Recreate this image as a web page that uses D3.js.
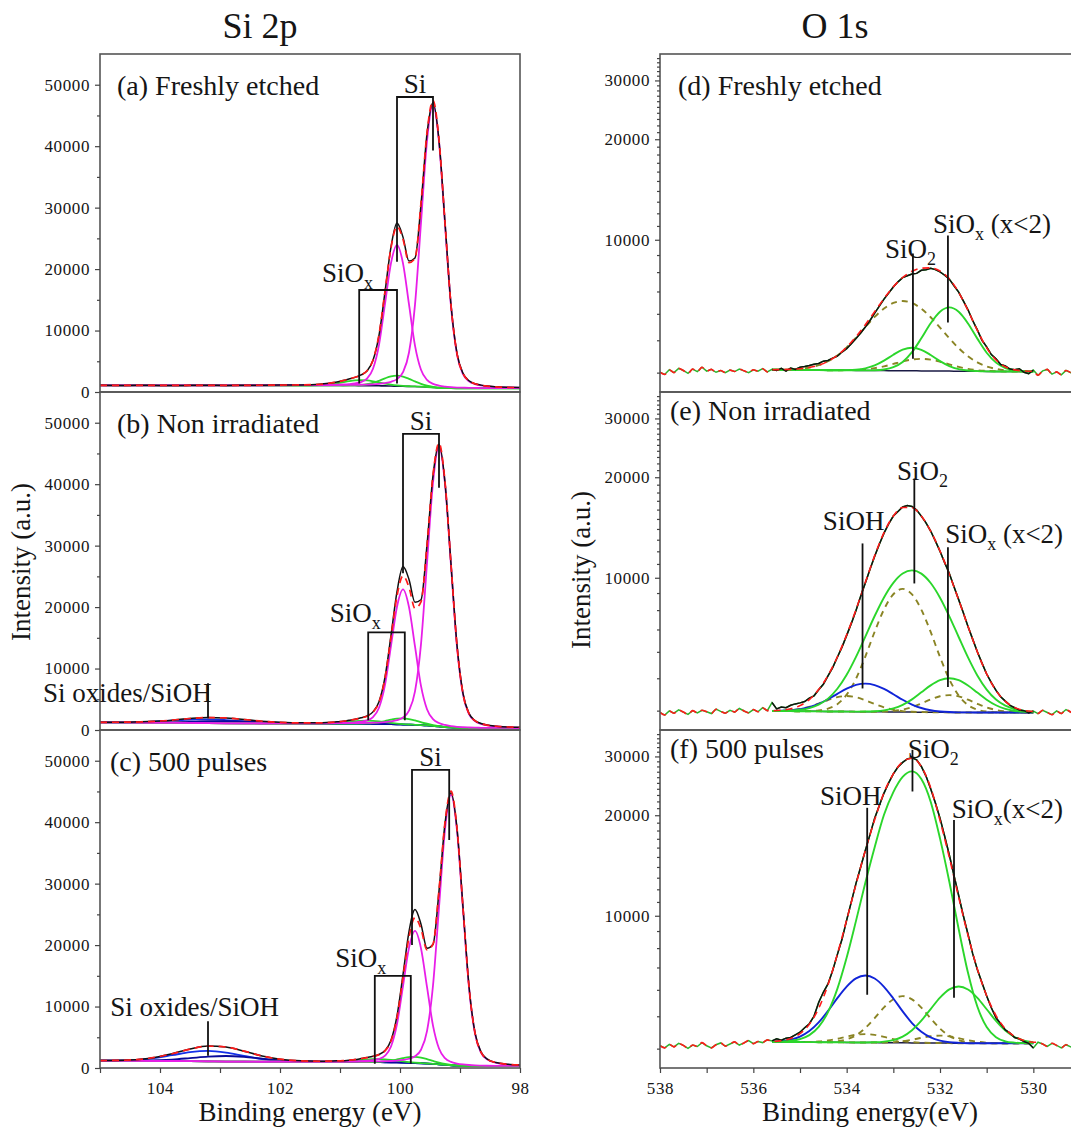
<!DOCTYPE html>
<html>
<head>
<meta charset="utf-8">
<title>XPS Si 2p / O 1s</title>
<script src="https://cdnjs.cloudflare.com/ajax/libs/d3/7.8.5/d3.min.js"></script>
<style>
body{margin:0;background:#fff;}
svg text{font-family:"Liberation Serif","Times New Roman",Times,serif !important;fill:#151515;white-space:pre;}
</style>
</head>
<body>
<script>
// ---------- Si 2p : energy grid (eV) ----------
var siEnergy=[105,104.6,104.2,103.8,103.5,103.2,102.9,102.6,102.3,102.0,101.65,101.35,101.05,100.95,100.85,100.75,100.65,100.55,100.45,100.35,100.25,100.15,100.05,99.95,99.85,99.75,99.65,99.55,99.45,99.35,99.25,99.15,99.05,98.95,98.85,98.75,98.65,98.55,98.4,98.2,98.0];

// (a) freshly etched
var bgA=[1080,1080,1080,1080,1080,1080,1080,1080,1080,1080,1075,1070,1065,1060,1055,1050,1040,1030,1020,1005,990,970,950,930,910,890,860,810,750,690,650,625,612,605,600,600,600,600,600,600,600];
var measA=[1090,1075,1085,1070,1080,1095,1070,1085,1100,1120,1150,1260,1640,1870,2120,2380,2780,3420,5150,9200,16300,23600,27500,25200,21300,21800,30500,42000,47100,40900,27600,14200,6300,3050,1830,1340,1120,960,840,760,715];
var si32A=[0,0,0,0,0,0,0,0,0,20,40,55,80,85,92,115,138,184,230,322,460,690,1150,2300,5520,13340,26680,40020,46000,40020,26680,13340,5520,2300,1150,690,460,322,207,129,87];
var si12A=[0,0,0,0,0,0,0,12,18,28,39,58,115,161,230,345,575,1150,2760,6670,13340,20010,23000,20010,13340,6670,2760,1150,575,345,230,161,115,92,69,58,46,41,38,29,23];
var sioxA1=[0,0,0,0,0,0,0,0,0,0,0,0,0,0,10,34,95,230,473,828,1234,1570,1700,1570,1234,828,473,230,95,34,10,0,0,0,0,0,0,0,0,0,0];
var sioxA2=[0,0,0,0,0,0,0,0,0,0,4,59,370,546,720,851,900,851,720,546,370,224,122,59,25,10,4,0,0,0,0,0,0,0,0,0,0,0,0,0,0];

// (b) non irradiated
var bgB=[1250,1240,1220,1190,1160,1120,1090,1070,1060,1055,1050,1045,1040,1035,1030,1025,1020,1010,1000,985,965,945,920,890,860,830,790,740,670,580,490,420,370,340,320,310,305,300,300,300,300];
var measB=[1260,1255,1370,1600,1880,2040,1940,1720,1430,1250,1160,1170,1330,1420,1580,1760,1990,2300,2950,4600,8600,15400,22500,26600,24500,20800,21200,30100,41400,46500,40300,27000,13800,5950,2700,1530,1060,800,620,490,430];
var si32B=[0,0,0,0,0,0,0,0,0,18,32,46,68,77,82,91,114,137,182,228,319,455,683,1138,2275,5460,13195,26390,39585,45500,39585,26390,13195,5460,2275,1138,683,455,273,159,100];
var si12B=[0,0,0,0,0,0,0,9,13,22,33,44,88,110,154,220,330,550,1100,2640,6380,12760,19140,22000,19140,12760,6380,2640,1100,550,330,220,154,110,88,66,55,44,37,31,26];
var sioxB1=[0,0,0,0,0,0,0,0,0,0,0,0,0,0,0,6,20,56,135,278,487,726,923,1000,923,726,487,278,135,56,20,6,0,0,0,0,0,0,0,0,0];
var sioxB2=[0,0,0,0,0,0,0,0,0,0,0,14,125,206,304,400,473,500,473,400,304,206,125,68,33,14,6,2,0,0,0,0,0,0,0,0,0,0,0,0,0];
var blueB1=[3,23,115,331,517,600,517,331,157,56,11,2,0,0,0,0,0,0,0,0,0,0,0,0,0,0,0,0,0,0,0,0,0,0,0,0,0,0,0,0,0];
var blueB2=[0,3,21,92,193,302,350,302,193,92,26,7,1,0,0,0,0,0,0,0,0,0,0,0,0,0,0,0,0,0,0,0,0,0,0,0,0,0,0,0,0];

// (c) 500 pulses
var bgC=[1200,1190,1170,1140,1110,1080,1050,1030,1020,1015,1010,1005,1000,995,990,985,978,970,960,948,935,920,900,875,845,810,770,720,660,590,520,450,400,360,335,320,310,305,300,300,300];
var measC=[1220,1270,1560,2330,3100,3580,3400,2740,1960,1440,1170,1110,1160,1180,1280,1370,1530,1700,1900,2200,2850,4500,8500,15200,22200,25800,23400,19500,20100,28800,39800,44800,39000,26200,13300,5750,2620,1480,880,600,480];
var si32C=[0,0,0,0,0,0,0,0,0,10,22,35,53,58,66,75,79,88,110,132,176,220,308,440,660,1100,2200,5280,12760,25520,38280,44000,38280,25520,12760,5280,2200,1100,528,264,154];
var si12C=[0,0,0,0,0,0,0,4,9,15,26,37,54,65,86,108,151,215,323,538,1075,2580,6235,12470,18705,21500,18705,12470,6235,2580,1075,538,323,215,151,108,86,65,47,37,30];
var sioxC1=[0,0,0,0,0,0,0,0,0,0,0,0,0,0,0,0,0,6,20,56,135,278,487,726,923,1000,923,726,487,278,135,56,20,6,0,0,0,0,0,0,0];
var sioxC2=[0,0,0,0,0,0,0,0,0,0,0,2,33,68,125,206,304,400,473,500,473,400,304,206,125,68,33,14,6,2,0,0,0,0,0,0,0,0,0,0,0];
var blueC1=[8,66,325,938,1465,1700,1465,938,445,157,32,6,0,0,0,0,0,0,0,0,0,0,0,0,0,0,0,0,0,0,0,0,0,0,0,0,0,0,0,0,0];
var blueC2=[1,8,55,236,497,776,900,776,497,236,68,17,3,0,0,0,0,0,0,0,0,0,0,0,0,0,0,0,0,0,0,0,0,0,0,0,0,0,0,0,0];

var siTicks=[0,10000,20000,30000,40000,50000];
var siMinor=[5000,15000,25000,35000,45000];
var siXTicks=[104,102,100,98];
var siXMinor=[105,103,101,99];

// ---------- O 1s : energy grids (eV) ----------
var oEnergy=[538.0,537.9,537.8,537.7,537.6,537.5,537.4,537.3,537.2,537.1,
537.0,536.9,536.8,536.7,536.6,536.5,536.4,536.3,536.2,536.1,
536.0,535.9,535.8,535.7,535.6,535.5,535.4,535.3,535.2,535.1,
535.0,534.9,534.8,534.7,534.6,534.5,534.4,534.3,534.2,534.1,
534.0,533.9,533.8,533.7,533.6,533.5,533.4,533.3,533.2,533.1,
533.0,532.9,532.8,532.7,532.6,532.5,532.4,532.3,532.2,532.1,
532.0,531.9,531.8,531.7,531.6,531.5,531.4,531.3,531.2,531.1,
531.0,530.9,530.8,530.7,530.6,530.5,530.4,530.3,530.2,530.1,
530.0,529.9,529.8,529.7,529.6,529.5,529.4,529.3,529.2,529.1,529.0];
var oFitEnergy=[535.6,535.4,535.2,535.0,534.8,534.6,534.4,534.2,534.0,533.8,533.6,533.4,533.2,533.0,532.8,532.6,532.4,532.2,532.0,531.8,531.6,531.4,531.2,531.0,530.8,530.6,530.4,530.2,530.0];

// (d) freshly etched
var rawD=[4010,3950,4080,4000,4120,4060,3980,4100,4030,4150,
4040,4090,4010,4060,4000,4070,4030,4100,4050,4000,
4080,4040,4110,4020,4090,4060,4120,4040,4130,4090,
4150,4170,4200,4240,4260,4330,4350,4420,4480,4610,
4720,4880,5060,5260,5480,5730,6030,6330,6640,6930,
7220,7480,7700,7800,7900,7930,8100,8130,8220,8140,
8010,7830,7620,7280,6970,6560,6170,5730,5370,5000,
4780,4530,4400,4230,4190,4100,4080,4110,4010,3970,
4070,3930,4050,4090,3960,4020,3940,4060,4000,3920,4040];
var bgD=[4080,4078,4076,4074,4072,4070,4068,4066,4064,4062,4060,4058,4056,4054,4052,4050,4048,4046,4044,4042,4040,4038,4036,4034,4032,4030,4030,4030,4030];
var sioxD=[0,0,0,0,0,0,0,0,0,0,2,9,32,98,254,555,1021,1577,2045,2230,2045,1577,1021,555,254,98,32,9,2];
var sio2D=[0,0,0,0,0,0,0,1,6,20,59,144,288,472,634,700,634,472,288,144,59,20,6,1,0,0,0,0,0];
var oliveD=[2,6,15,34,72,140,258,438,695,1028,1415,1815,2168,2413,2500,2413,2168,1815,1415,1028,695,438,258,140,72,34,15,6,2];
var smallD=[0,0,0,0,0,0,0,2,5,14,32,67,121,193,269,328,350,328,269,193,121,67,32,14,5,2,0,0,0];

// (e) non irradiated
var rawE=[3950,3880,3990,3930,4020,3960,3900,4000,3940,4010,
3970,3920,4040,3980,3930,4010,3960,4060,3990,3940,
4030,3970,4080,4000,4230,4050,4100,4080,4150,4190,
4220,4260,4360,4430,4620,4800,5080,5380,5780,6200,
6720,7300,7980,8800,9650,10600,11600,12600,13600,14500,
15300,15800,16300,16450,16350,15950,15300,14600,13800,12900,
12000,11100,10300,9400,8600,7850,7150,6550,6000,5550,
5150,4850,4600,4400,4270,4150,4080,4020,4000,3940,
3990,3920,4010,3950,3890,3990,3920,4030,3960,3900,3980];
var bgE=[3990,3988,3986,3984,3982,3980,3978,3976,3974,3972,3970,3968,3966,3964,3962,3960,3958,3956,3954,3952,3950,3950,3950,3950,3950,3950,3950,3950,3950];
var siohE=[3,9,24,56,115,212,349,516,680,804,850,804,680,516,349,212,115,56,24,9,3,1,0,0,0,0,0,0,0];
var sio2E=[2,6,16,39,89,188,367,676,1148,1824,2696,3713,4763,5688,6330,6560,6330,5688,4763,3713,2696,1824,1148,676,367,188,89,39,16];
var oliveE=[0,0,0,0,7,25,77,207,491,1012,1839,2926,4070,4961,5300,4961,4070,2926,1839,1012,491,207,77,25,7,0,0,0,0];
var sioxE=[0,0,0,0,0,0,0,0,0,1,5,15,41,97,201,364,580,806,983,1050,983,806,580,364,201,97,41,15,5];
var small1E=[3,9,25,61,125,219,327,415,450,415,327,219,125,61,25,9,3,0,0,0,0,0,0,0,0,0,0,0,0];
var small2E=[0,0,0,0,0,0,0,0,0,0,0,3,10,28,68,139,244,363,462,500,462,363,244,139,68,28,10,3,0];

// (f) 500 pulses
var rawF=[4080,4020,4120,4050,4150,4090,4010,4100,4060,4170,
4080,4020,4110,4160,4070,4130,4190,4100,4160,4230,
4140,4200,4170,4250,4220,4280,4240,4300,4320,4400,
4480,4620,4750,5000,5500,5900,6250,6850,7650,8500,
9700,11000,12500,14000,15700,17500,19600,21400,23300,25000,
26600,27900,28800,29500,29700,29300,28000,26200,24000,21800,
19600,17300,15200,13200,11500,10000,8800,7700,6900,6300,
5750,5300,4950,4750,4550,4450,4320,4280,4200,4150,
4020,4180,4130,4060,4150,4090,4020,4110,4050,3990,4070];
var bgF=[4190,4190,4188,4186,4184,4182,4180,4178,4176,4174,4172,4170,4168,4166,4164,4162,4160,4158,4156,4154,4152,4150,4150,4150,4150,4150,4150,4150,4150];
var siohF=[10,27,70,162,331,610,1007,1487,1960,2318,2450,2318,1960,1487,1007,610,331,162,70,27,10,3,0,0,0,0,0,0,0];
var sio2F=[4,11,33,86,207,464,968,1863,3322,5478,8382,11880,15900,19300,21900,22900,21500,17800,12892,8492,4972,2596,1197,491,178,57,18,4,1];
var oliveF=[0,0,0,0,0,3,9,31,88,213,439,769,1147,1458,1580,1458,1147,769,439,213,88,31,9,3,0,0,0,0,0];
var sioxF=[0,0,0,0,0,0,0,0,0,0,3,9,29,78,184,380,691,1098,1528,1863,1990,1863,1528,1098,691,380,184,78,29];
var small1F=[0,0,0,2,7,21,52,103,169,227,250,227,169,103,52,21,7,2,0,0,0,0,0,0,0,0,0,0,0];
var small2F=[0,0,0,0,0,0,0,0,0,0,0,2,6,19,45,90,148,199,220,199,148,90,45,19,6,2,0,0,0];

var oTicks=[10000,20000,30000];
var oXTicks=[538,536,534,532,530];
var oXMinor=[537,535,533,531];

// annotations, in data units (eV, counts)
var siLabels=["(a) Freshly etched","(b) Non irradiated","(c) 500 pulses"];
var siBrackets=[[100.05,99.45,48000,21200,39300],[99.95,99.35,48200,25500,39400],[99.8,99.18,48500,20000,37100]];
var sioxBrackets=[[100.68,100.05,16600,1400],[100.53,99.92,15900,1600],[100.42,99.82,15000,700]];
var sioxText=[[101.3,17900],[101.17,17540],[101.08,16360]];
var oxideText=[null,[105.95,4600],[104.83,8530]];
var oxideLine=[null,[103.2,7620,1900],[103.2,7600,2000]];

var oLabels=["(d) Freshly etched","(e) Non irradiated","(f) 500 pulses"];
// [text, textE, textY, lineE, lineTop, lineBottom]
var oNotes=[
 [["SiO_2",533.18,8848,532.58,9100,4400],["SiO_x (x<2)",532.15,10500,531.83,10300,5650]],
 [["SiO_2",532.92,19570,532.55,19830,9615],["SiOH",534.51,13860,533.66,12670,4661],["SiO_x (x<2)",531.89,12670,531.83,12350,4707]],
 [["SiO_2",532.69,29700,532.59,31400,23560],["SiOH",534.57,21500,533.56,21050,5800],["SiO_x(x<2)",531.75,19640,531.70,19370,5680]]
];

// ---------- drawing ----------
var FONT='"Liberation Serif","Times New Roman",Times,serif';
var width=1071, height=1127;
var tops=[54,392,730], ph=338;
var svg=d3.select("body").append("svg").attr("width",width).attr("height",height).style("font-family",FONT);

var xSi=d3.scaleLinear().domain([105,98]).range([100,520]);
var xO=d3.scaleLinear().domain([538,529]).range([660,1080]);

var siPanels=[
 {bg:bgA, meas:measA, mag:[si32A,si12A], green:[sioxA1,sioxA2], blue:[]},
 {bg:bgB, meas:measB, mag:[si32B,si12B], green:[sioxB1,sioxB2], blue:[blueB1,blueB2]},
 {bg:bgC, meas:measC, mag:[si32C,si12C], green:[sioxC1,sioxC2], blue:[blueC1,blueC2]}
];
var oPanels=[
 {raw:rawD, bg:bgD, blue:[], green:[sio2D,sioxD], olive:[oliveD,smallD]},
 {raw:rawE, bg:bgE, blue:[siohE], green:[sio2E,sioxE], olive:[oliveE,small1E,small2E]},
 {raw:rawF, bg:bgF, blue:[siohF], green:[sio2F,sioxF], olive:[oliveF,small1F,small2F]}
];

var defs=svg.append("defs");

function txt(g,x,y,size){
	return g.append("text").attr("x",x).attr("y",y).style("font-size",size+"px").style("font-family",FONT);
}
function richText(g,x,y,str,size){
	var t=txt(g,x,y,size);
	var parts=str.split("_");
	t.append("tspan").text(parts[0]);
	for(var i=1;i<parts.length;i++){
		t.append("tspan").attr("dy",7).style("font-size",Math.round(size*0.68)+"px").text(parts[i].charAt(0));
		if(parts[i].length>1) t.append("tspan").attr("dy",-7).text(parts[i].slice(1));
	}
	return t;
}

function styleAxis(a){
	a.attr("font-family",null).attr("font-size",null);
	a.select(".domain").remove();
	a.selectAll(".tick line").attr("stroke","#444").attr("stroke-width",1.2);
	a.selectAll(".tick text").style("font-size","17px").style("font-family",FONT).style("letter-spacing","0.6px").attr("fill","#151515");
}

// --- Si 2p column ---
siPanels.forEach(function(p,pi){
	var top=tops[pi];
	var y=d3.scaleLinear().domain([0,55000]).range([top+ph,top]);
	var g=svg.append("g");
	defs.append("clipPath").attr("id","cs"+pi).append("rect").attr("x",100).attr("y",top).attr("width",420).attr("height",ph);
	var cg=g.append("g").attr("clip-path","url(#cs"+pi+")");
	var line=d3.line().x(function(d,j){return xSi(siEnergy[j]);}).y(function(d){return y(d);}).curve(d3.curveMonotoneX);
	function onBg(c){return c.map(function(v,j){return v+p.bg[j];});}
	var fit=p.bg.map(function(b,j){
		var s=b;
		p.mag.concat(p.green,p.blue).forEach(function(c){s+=c[j];});
		return s;
	});
	cg.append("path").attr("d",line(p.bg)).attr("fill","none").attr("stroke","#12124a").attr("stroke-width",1.6);
	p.blue.forEach(function(c,ci){
		cg.append("path").attr("d",line(onBg(c))).attr("fill","none").attr("stroke",ci==0?"#1530e8":"#0a0a9a").attr("stroke-width",1.8);
	});
	p.green.forEach(function(c){
		cg.append("path").attr("d",line(onBg(c))).attr("fill","none").attr("stroke","#2bd62b").attr("stroke-width",1.8);
	});
	p.mag.forEach(function(c){
		cg.append("path").attr("d",line(onBg(c))).attr("fill","none").attr("stroke","#e81ee8").attr("stroke-width",1.8);
	});
	cg.append("path").attr("d",line(p.meas)).attr("fill","none").attr("stroke","#111").attr("stroke-width",1.5);
	cg.append("path").attr("d",line(fit)).attr("fill","none").attr("stroke","#ff1a1a").attr("stroke-width",1.7).attr("stroke-dasharray","7,5");

	// frame and axes
	g.append("rect").attr("x",100).attr("y",top).attr("width",420).attr("height",ph).attr("fill","none").attr("stroke","#555").attr("stroke-width",1.6);
	var ay=g.append("g").attr("transform","translate(100,0)").call(d3.axisLeft(y).tickValues(siTicks).tickSize(5).tickPadding(5).tickFormat(d3.format("d")));
	styleAxis(ay);
	var my=g.append("g").attr("transform","translate(100,0)").call(d3.axisLeft(y).tickValues(siMinor).tickSize(3).tickFormat(""));
	styleAxis(my);
	if(pi==2){
		var ax=g.append("g").attr("transform","translate(0,"+(top+ph)+")").call(d3.axisBottom(xSi).tickValues(siXTicks).tickSize(5).tickPadding(9).tickFormat(d3.format("d")));
		styleAxis(ax);
		var mx=g.append("g").attr("transform","translate(0,"+(top+ph)+")").call(d3.axisBottom(xSi).tickValues(siXMinor).tickSize(5).tickFormat(""));
		styleAxis(mx);
	}

	// annotations
	txt(g,pi==2?110:117,top+41,28).text(siLabels[pi]);
	var b=siBrackets[pi];
	g.append("path").attr("d","M"+xSi(b[0])+","+y(b[3])+"V"+y(b[2])+"H"+xSi(b[1])+"V"+y(b[4]))
		.attr("fill","none").attr("stroke","#111").attr("stroke-width",1.8);
	txt(g,(xSi(b[0])+xSi(b[1]))/2,y(b[2])-4,27).attr("text-anchor","middle").text("Si");
	var s=sioxBrackets[pi];
	g.append("path").attr("d","M"+xSi(s[0])+","+y(s[3])+"V"+y(s[2])+"H"+xSi(s[1])+"V"+y(s[3]))
		.attr("fill","none").attr("stroke","#111").attr("stroke-width",1.8);
	richText(g,xSi(sioxText[pi][0]),y(sioxText[pi][1]),"SiO_x",27);
	if(oxideText[pi]){
		txt(g,xSi(oxideText[pi][0]),y(oxideText[pi][1]),27).text("Si oxides/SiOH");
		var l=oxideLine[pi];
		g.append("line").attr("x1",xSi(l[0])).attr("x2",xSi(l[0])).attr("y1",y(l[1])).attr("y2",y(l[2])).attr("stroke","#111").attr("stroke-width",1.8);
	}
});

// --- O 1s column ---
oPanels.forEach(function(p,pi){
	var top=tops[pi];
	var y=d3.scaleLog().domain([3500,36000]).range([top+ph,top]);
	var g=svg.append("g");
	defs.append("clipPath").attr("id","co"+pi).append("rect").attr("x",660).attr("y",top).attr("width",420).attr("height",ph);
	var cg=g.append("g").attr("clip-path","url(#co"+pi+")");
	var fline=d3.line().x(function(d,j){return xO(oFitEnergy[j]);}).y(function(d){return y(d);}).curve(d3.curveMonotoneX);
	var rline=d3.line().x(function(d){return xO(d[0]);}).y(function(d){return y(d[1]);});
	function onBg(c){return c.map(function(v,j){return v+p.bg[j];});}
	var comps=p.blue.concat(p.green,p.olive);
	var fit=p.bg.map(function(b,j){var s=b;comps.forEach(function(c){s+=c[j];});return s;});
	var raw=p.raw.map(function(v,j){return [oEnergy[j],v];});
	var inside=raw.filter(function(d){return d[0]<=535.6&&d[0]>=530.0;});
	var env=raw.filter(function(d){return d[0]>535.6;})
		.concat(fit.map(function(v,j){return [oFitEnergy[j],v];}))
		.concat(raw.filter(function(d){return d[0]<530.0;}));

	cg.append("path").attr("d",rline(raw)).attr("fill","none").attr("stroke","#2bb52b").attr("stroke-width",1.5);
	cg.append("path").attr("d",fline(p.bg)).attr("fill","none").attr("stroke","#1a1a44").attr("stroke-width",1.5);
	p.olive.forEach(function(c){
		cg.append("path").attr("d",fline(onBg(c))).attr("fill","none").attr("stroke","#8a8424").attr("stroke-width",1.9).attr("stroke-dasharray","6,5");
	});
	p.blue.forEach(function(c){
		cg.append("path").attr("d",fline(onBg(c))).attr("fill","none").attr("stroke","#1024d8").attr("stroke-width",1.9);
	});
	p.green.forEach(function(c){
		cg.append("path").attr("d",fline(onBg(c))).attr("fill","none").attr("stroke","#2bd62b").attr("stroke-width",1.9);
	});
	cg.append("path").attr("d",rline(inside)).attr("fill","none").attr("stroke","#111").attr("stroke-width",1.5);
	cg.append("path").attr("d",d3.line().x(function(d){return xO(d[0]);}).y(function(d){return y(d[1]);}).curve(d3.curveMonotoneX)(env))
		.attr("fill","none").attr("stroke","#ff1a1a").attr("stroke-width",1.6).attr("stroke-dasharray","7,5");

	g.append("rect").attr("x",660).attr("y",top).attr("width",420).attr("height",ph).attr("fill","none").attr("stroke","#555").attr("stroke-width",1.6);
	var ay=g.append("g").attr("transform","translate(660,0)").call(d3.axisLeft(y).tickValues(oTicks).tickSize(5).tickPadding(5).tickFormat(d3.format("d")));
	styleAxis(ay);
	var minor=d3.range(4000,36000,1000).filter(function(v){return oTicks.indexOf(v)<0;});
	var my=g.append("g").attr("transform","translate(660,0)").call(d3.axisLeft(y).tickValues(minor).tickSize(3).tickFormat(""));
	styleAxis(my);
	if(pi==2){
		var ax=g.append("g").attr("transform","translate(0,"+(top+ph)+")").call(d3.axisBottom(xO).tickValues(oXTicks).tickSize(5).tickPadding(9).tickFormat(d3.format("d")));
		styleAxis(ax);
		var mx=g.append("g").attr("transform","translate(0,"+(top+ph)+")").call(d3.axisBottom(xO).tickValues(oXMinor).tickSize(5).tickFormat(""));
		styleAxis(mx);
	}

	txt(g,pi==0?678:670,top+(pi==0?41:28),28).text(oLabels[pi]);
	oNotes[pi].forEach(function(n){
		richText(g,xO(n[1]),y(n[2]),n[0],27);
		g.append("line").attr("x1",xO(n[3])).attr("x2",xO(n[3])).attr("y1",y(n[4])).attr("y2",y(n[5])).attr("stroke","#111").attr("stroke-width",1.8);
	});
});

// titles
txt(svg,260,38,36).attr("text-anchor","middle").text("Si 2p");
txt(svg,835,38,36).attr("text-anchor","middle").text("O 1s");
txt(svg,0,0,27).attr("transform","translate(30,562) rotate(-90)").attr("text-anchor","middle").text("Intensity (a.u.)");
txt(svg,0,0,27).attr("transform","translate(590,570) rotate(-90)").attr("text-anchor","middle").text("Intensity (a.u.)");
txt(svg,310,1121,27).attr("text-anchor","middle").text("Binding energy (eV)");
txt(svg,870,1121,27).attr("text-anchor","middle").text("Binding energy(eV)");
</script>
</body>
</html>
